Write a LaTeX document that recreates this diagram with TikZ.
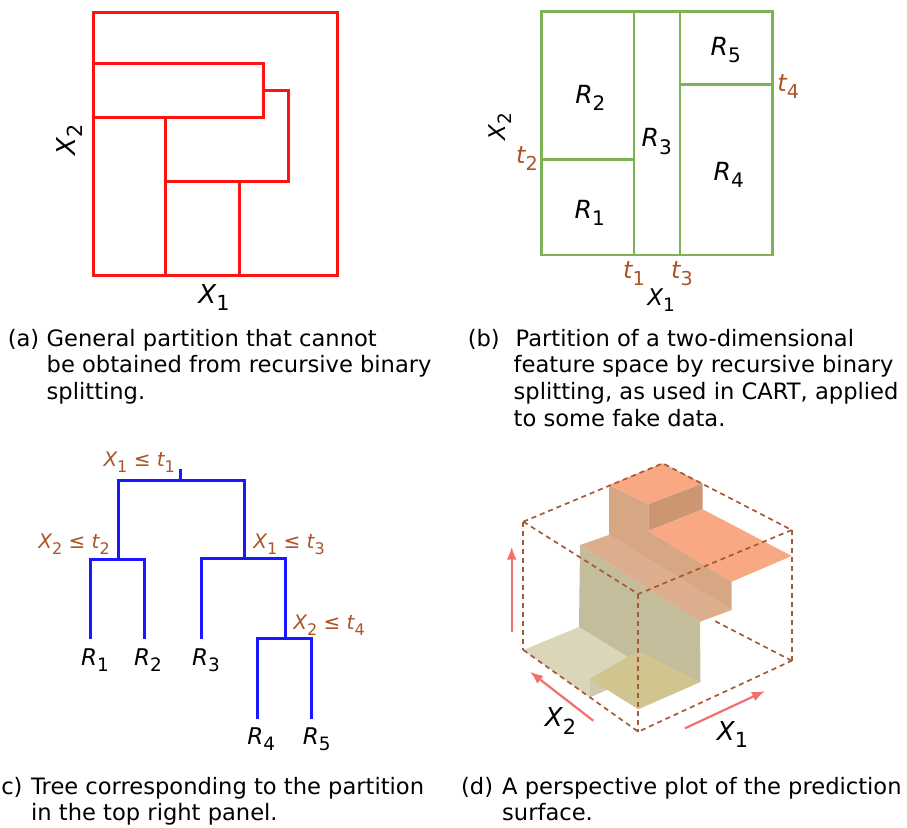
\documentclass[tikz,border=0pt]{standalone}
\usepackage{fontspec}
\setmainfont{DejaVu Sans}
\usepackage{graphicx}
\usetikzlibrary{arrows.meta}
\definecolor{cred}{RGB}{250,20,20}
\definecolor{cgreen}{RGB}{125,178,85}
\definecolor{cblue}{RGB}{25,25,255}
\definecolor{cbrown}{RGB}{170,85,40}
\definecolor{cdash}{RGB}{165,90,55}
\definecolor{carrow}{RGB}{245,110,110}
\definecolor{fsalmon}{RGB}{248,168,130}
\definecolor{fdark}{RGB}{204,150,115}
\definecolor{fwall}{RGB}{215,166,131}
\definecolor{fthree}{RGB}{221,174,141}
\definecolor{folive}{RGB}{196,189,155}
\definecolor{ffloor}{RGB}{219,214,185}
\definecolor{fsmall}{RGB}{206,202,174}
\definecolor{fone}{RGB}{208,196,143}
\newcommand\sbx[1]{\raisebox{-0.3em}{\scalebox{0.8}{\upshape #1}}}
\begin{document}
\begin{tikzpicture}[x=1pt,y=-1pt,
  redline/.style={draw=cred,line width=3pt},
  greenline/.style={draw=cgreen,line width=2.8pt},
  treeline/.style={draw=cblue,line width=3pt},
  boxdash/.style={draw=cdash,line width=1.7pt,dash pattern=on 5pt off 4pt},
  redarrow/.style={draw=carrow,line width=2.2pt,-{Latex[length=13pt,width=10pt]}},
  lab/.style={inner sep=0pt,font=\fontsize{23}{27}\selectfont\itshape},
  rlab/.style={inner sep=0pt,font=\fontsize{25}{29}\selectfont\itshape},
  tlab/.style={inner sep=0pt,text=cbrown,font=\fontsize{24}{28}\selectfont\itshape},
  splab/.style={inner sep=0pt,text=cbrown,font=\fontsize{20}{24}\selectfont\itshape},
  biglab/.style={inner sep=0pt,font=\fontsize{26}{30}\selectfont\itshape},
  captxt/.style={inner sep=0pt,anchor=base west,font=\fontsize{22.6}{26}\selectfont},
  capno/.style={inner sep=0pt,anchor=base east,font=\fontsize{22.6}{26}\selectfont}]
\useasboundingbox (0,0) rectangle (907,827);

% ---------------- panel (a)
\draw[redline] (93,12) rectangle (337,275);
\coordinate (a1) at (93,63.3);
\coordinate (a2) at (263.3,63.3);
\coordinate (a3) at (263.3,117.7);
\coordinate (a4) at (93,117.7);
\coordinate (a5) at (263.3,90.7);
\coordinate (a6) at (288.7,90.7);
\coordinate (a7) at (288.7,181.7);
\coordinate (a8) at (165.7,181.7);
\coordinate (a9) at (165.7,117.7);
\coordinate (a10) at (165.7,275);
\coordinate (a11) at (239,181.7);
\coordinate (a12) at (239,275);
\draw[redline] (a1) -- (a2) -- (a3) -- (a4);
\draw[redline] (a5) -- (a6) -- (a7) -- (a8);
\draw[redline] (a9) -- (a10);
\draw[redline] (a11) -- (a12);
\node[biglab,anchor=base] (ax1) at (214,303) {X\sbx{1}};
\node[biglab,anchor=base,rotate=90] (ax2) at (75,140) {X\sbx{2}};

% ---------------- panel (b)
\draw[greenline] (541.7,11.7) rectangle (772.3,255);
\coordinate (b1t) at (634,11.7);
\coordinate (b1b) at (634,255);
\coordinate (b3t) at (680,11.7);
\coordinate (b3b) at (680,255);
\coordinate (b2l) at (541.7,159.3);
\coordinate (b2r) at (634,159.3);
\coordinate (b4l) at (680,84.3);
\coordinate (b4r) at (772.3,84.3);
\draw[greenline] (b1t) -- (b1b);
\draw[greenline] (b3t) -- (b3b);
\draw[greenline] (b2l) -- (b2r);
\draw[greenline] (b4l) -- (b4r);
\node[rlab,anchor=base] (bR5) at (725.7,55) {R\sbx{5}};
\node[rlab,anchor=base] (bR2) at (590.3,103.3) {R\sbx{2}};
\node[rlab,anchor=base] (bR3) at (656.7,146.7) {R\sbx{3}};
\node[rlab,anchor=base] (bR4) at (728.7,180) {R\sbx{4}};
\node[rlab,anchor=base] (bR1) at (589.7,218.3) {R\sbx{1}};
\node[tlab,anchor=base] (bt4) at (788.3,91.7) {t\sbx{4}};
\node[tlab,anchor=base] (bt2) at (527,163.3) {t\sbx{2}};
\node[tlab,anchor=base] (bt1) at (634,278.3) {t\sbx{1}};
\node[tlab,anchor=base] (bt3) at (682,278.3) {t\sbx{3}};
\node[lab,anchor=base] (bx1) at (661,305) {X\sbx{1}};
\node[lab,anchor=base,rotate=90] (bx2) at (505,127) {X\sbx{2}};

% ---------------- panel (c)
\coordinate (root) at (180,469);
\coordinate (n1) at (180,480);
\coordinate (n2) at (118.3,559);
\coordinate (n3) at (244.3,558.3);
\coordinate (n4) at (285.7,638.3);
\coordinate (l1) at (90,639.3);
\coordinate (l2) at (144,639.3);
\coordinate (l3) at (201.7,639.3);
\coordinate (l4) at (257.7,719.3);
\coordinate (l5) at (311.7,719.3);
\draw[treeline] (root) -- (n1);
\draw[treeline] (n2) |- (n1) -| (n3);
\draw[treeline] (l1) |- (n2) -| (l2);
\draw[treeline] (l3) |- (n3) -| (n4);
\draw[treeline] (l4) |- (n4) -| (l5);
\node[splab,anchor=base] (c1) at (139.2,466.7) {X\sbx{1} {\upshape ≤} t\sbx{1}};
\node[splab,anchor=base] (c2) at (74,548.3) {X\sbx{2} {\upshape ≤} t\sbx{2}};
\node[splab,anchor=base] (c3) at (289,548.3) {X\sbx{1} {\upshape ≤} t\sbx{3}};
\node[splab,anchor=base] (c4) at (329,629.3) {X\sbx{2} {\upshape ≤} t\sbx{4}};
\node[lab,anchor=base] (cR1) at (95,665) {R\sbx{1}};
\node[lab,anchor=base] (cR2) at (148,665) {R\sbx{2}};
\node[lab,anchor=base] (cR3) at (206,665) {R\sbx{3}};
\node[lab,anchor=base] (cR4) at (261.3,744) {R\sbx{4}};
\node[lab,anchor=base] (cR5) at (316.7,744) {R\sbx{5}};

% ---------------- panel (d): surface
\fill[ffloor] (523.3,650) -- (579,627) -- (651,670) -- (590,697.3) -- cycle;
\fill[folive] (580,545) -- (700,621.7) -- (700.5,682) -- (640,664) -- (579,627) -- cycle;
\fill[fsmall] (590,679) -- (590,697.3) -- (651,670) -- (638.3,650.7) -- cycle;
\fill[fone] (590,679) -- (638.3,650.7) -- (700.5,682) -- (638.3,709.3) -- cycle;
\fill[fthree] (580,545) -- (609,535) -- (731.7,610) -- (700,621.7) -- cycle;
\fill[fwall] (609,485) -- (648.3,504) -- (648.3,531) -- (731.7,581.7) -- (731.7,610) -- (609,535) -- cycle;
\fill[fdark] (648.3,504) -- (702.7,483.3) -- (702.7,509.3) -- (648.3,531) -- cycle;
\fill[fsalmon] (648.3,531) -- (702.7,509.3) -- (791.7,556) -- (731.7,581.7) -- cycle;
\fill[fsalmon] (609,485) -- (662.7,463.3) -- (702.7,483.3) -- (648.3,504) -- cycle;

% dashed bounding box
\coordinate (T) at (662.7,463.3);
\coordinate (UL) at (523.3,521.7);
\coordinate (UR) at (791.7,530);
\coordinate (UF) at (638.3,594);
\coordinate (LL) at (523.3,650);
\coordinate (LR) at (791.7,660.7);
\coordinate (LF) at (638.3,731.7);
\coordinate (BB) at (713,620);
\draw[boxdash] (UL) -- (T) -- (UR);
\draw[boxdash] (UL) -- (UF) -- (UR);
\draw[boxdash] (UL) -- (LL);
\draw[boxdash] (UR) -- (LR);
\draw[boxdash] (UF) -- (LF);
\draw[boxdash] (LL) -- (LF) -- (LR);
\draw[boxdash] (LR) -- (BB);

% axis arrows
\coordinate (zA) at (511.7,631.7);
\coordinate (zB) at (511.7,546.7);
\coordinate (yA) at (593.3,720.7);
\coordinate (yB) at (530,671.7);
\coordinate (xA) at (685,728.3);
\coordinate (xB) at (765,691);
\draw[redarrow] (zA) -- (zB);
\draw[redarrow] (yA) -- (yB);
\draw[redarrow] (xA) -- (xB);
\node[biglab,anchor=base] (dx2) at (560.5,726.7) {X\sbx{2}};
\node[biglab,anchor=base] (dx1) at (732.5,740) {X\sbx{1}};

% ---------------- captions
\node[capno] (pa) at (39.5,346.7) {(a)};
\node[captxt] (ca1) at (46.5,346.7) {General partition that cannot};
\node[captxt] (ca2) at (46.5,372.7) {be obtained from recursive binary};
\node[captxt] (ca3) at (46.5,399) {splitting.};
\node[capno] (pb) at (500,346.7) {(b)};
\node[captxt] (cb1) at (515.5,346.7) {Partition of a two-dimensional};
\node[captxt] (cb2) at (513.5,372.7) {feature space by recursive binary};
\node[captxt] (cb3) at (513.5,399) {splitting, as used in CART, applied};
\node[captxt] (cb4) at (513.5,426) {to some fake data.};
\node[capno] (pc) at (22.7,794) {(c)};
\node[captxt] (cc1) at (31,794) {Tree corresponding to the partition};
\node[captxt] (cc2) at (31,820) {in the top right panel.};
\node[capno] (pd) at (493.3,794) {(d)};
\node[captxt] (cd1) at (502,794) {A perspective plot of the prediction};
\node[captxt] (cd2) at (502,820.5) {surface.};
\end{tikzpicture}
\end{document}
